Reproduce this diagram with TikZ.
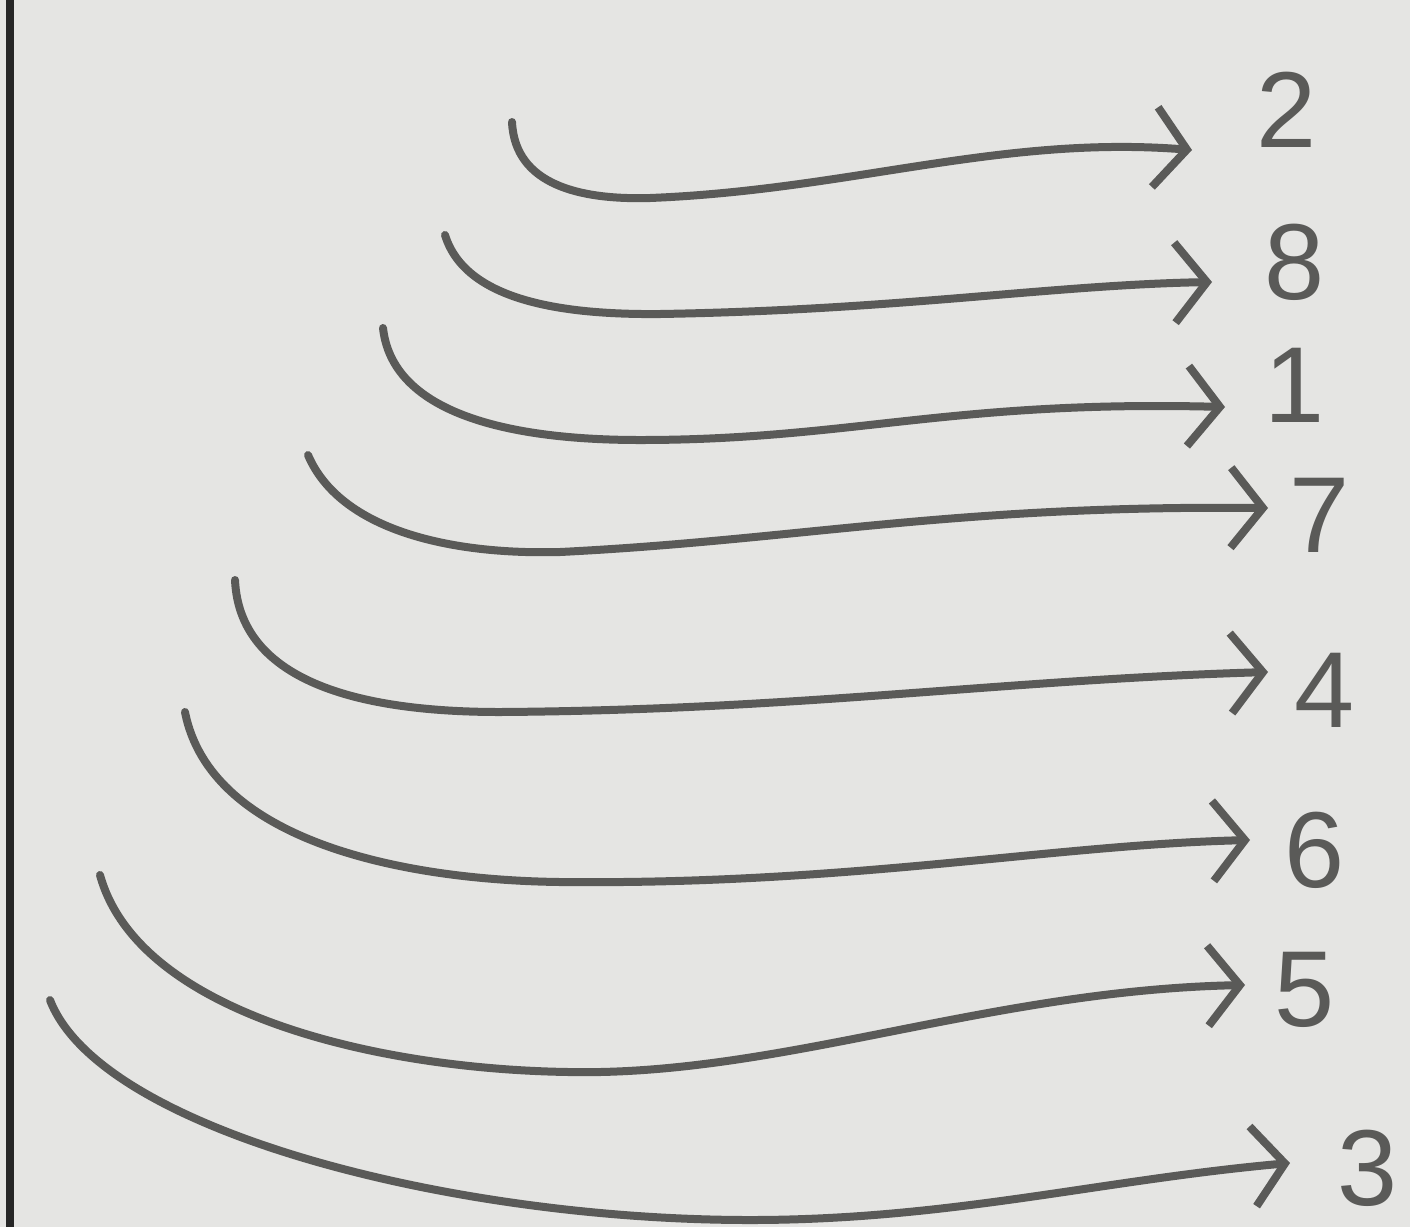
\documentclass[tikz,border=0pt]{standalone}
\usepackage{fontspec}
\setmainfont{Liberation Sans}
\usetikzlibrary{arrows.meta,calc}
\definecolor{paper}{HTML}{E5E5E3}
\definecolor{pencil}{HTML}{5A5A58}
\tikzset{
  curve/.style={draw=pencil, line width=8pt, line cap=round, line join=round,
    -{Straight Barb[length=32pt,width=80pt,line width=8pt]}},
  digit/.style={inner sep=0pt, text=pencil, font=\fontsize{108}{108}\selectfont}
}
\begin{document}
\begin{tikzpicture}[x=1pt,y=-1pt]
\fill[paper] (0,0) rectangle (1410,1227);
\useasboundingbox (0,0) rectangle (1410,1227);
\draw[line width=8pt, draw=black!85] (10,0) -- (10,1227);

\node[digit] (n2) at (1287,110) {2};
\node[digit] (n8) at (1295,262) {8};
\node[digit] (n1) at (1295,385) {1};
\node[digit] (n7) at (1320,515) {7};
\node[digit] (n4) at (1325,690) {4};
\node[digit] (n6) at (1315,850) {6};
\node[digit] (n5) at (1305,990) {5};
\node[digit] (n3) at (1368,1168) {3};

\coordinate (s2) at (512,122);
\coordinate (s8) at (445,235);
\coordinate (s1) at (383,328);
\coordinate (s7) at (308,455);
\coordinate (s4) at (235,580);
\coordinate (s6) at (185,712);
\coordinate (s5) at (100,875);
\coordinate (s3) at (50,1000);

\draw[curve] (s2) .. controls (515,185) and (580,200) .. (650,198)
  .. controls (850,190) and (1000,135) .. ([shift={(-95,40)}]n2.center);
\draw[curve] (s8) .. controls (465,300) and (560,315) .. (660,314)
  .. controls (900,310) and (1050,285) .. ([shift={(-83,20)}]n8.center);
\draw[curve] (s1) .. controls (392,410) and (500,440) .. (640,440)
  .. controls (850,440) and (950,400) .. ([shift={(-70,22)}]n1.center);
\draw[curve] (s7) .. controls (340,530) and (450,555) .. (560,552)
  .. controls (800,540) and (950,505) .. ([shift={(-52,-7)}]n7.center);
\draw[curve] (s4) .. controls (240,690) and (380,712) .. (500,712)
  .. controls (800,710) and (1000,680) .. ([shift={(-57,-18)}]n4.center);
\draw[curve] (s6) .. controls (210,840) and (400,880) .. (560,882)
  .. controls (850,885) and (1050,845) .. ([shift={(-65,-10)}]n6.center);
\draw[curve] (s5) .. controls (140,1020) and (400,1075) .. (600,1072)
  .. controls (800,1068) and (1000,990) .. ([shift={(-60,-5)}]n5.center);
\draw[curve] (s3) .. controls (100,1130) and (450,1220) .. (750,1220)
  .. controls (950,1220) and (1100,1180) .. ([shift={(-78,-5)}]n3.center);
\end{tikzpicture}
\end{document}
